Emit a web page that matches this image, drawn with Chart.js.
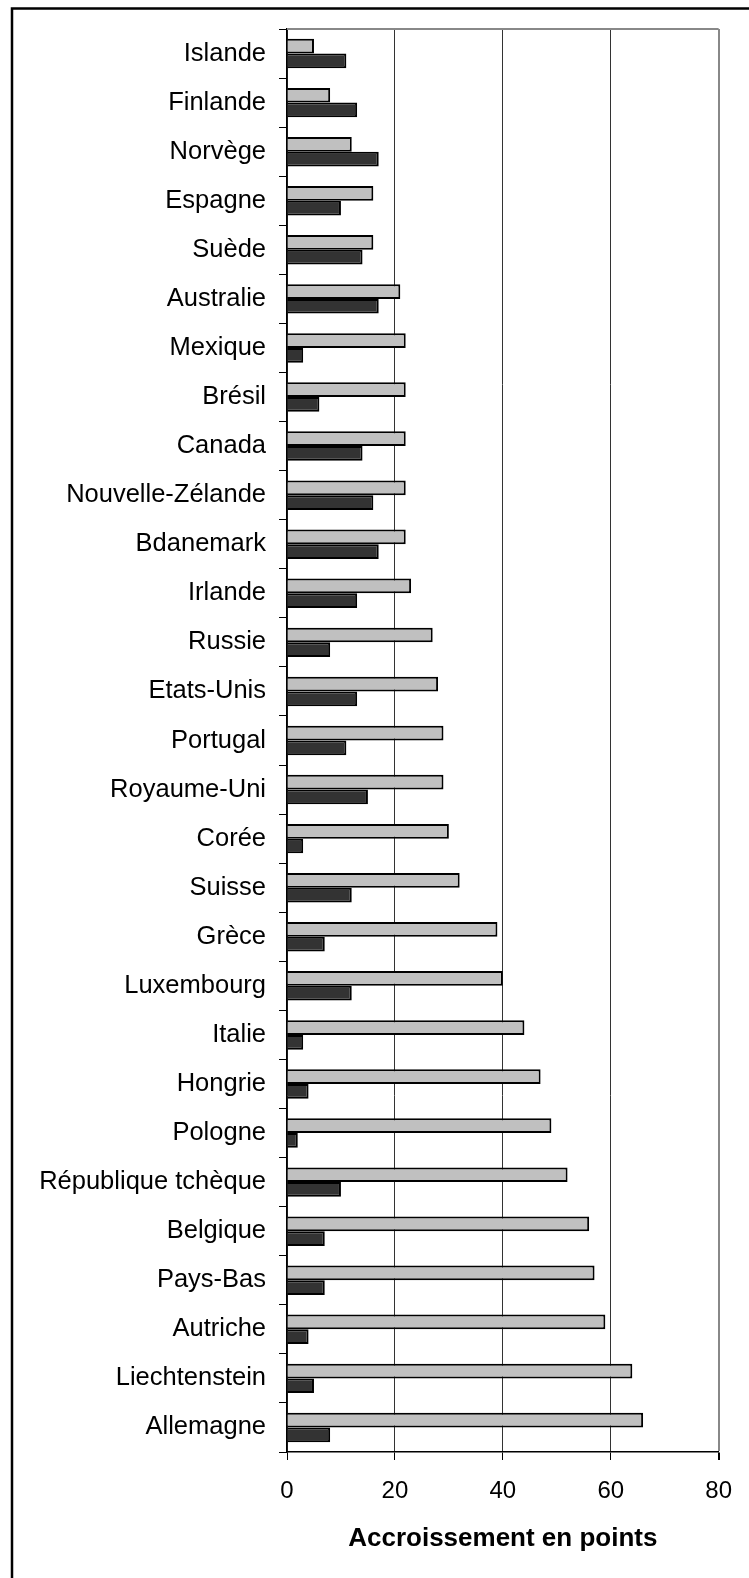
<!DOCTYPE html>
<html>
<head>
<meta charset="utf-8">
<script src="https://cdn.jsdelivr.net/npm/chart.js@4.4.1/dist/chart.umd.min.js"></script>
<style>
  body { margin: 0; background: #fff; }
  canvas { display: block; }
</style>
</head>
<body>
<canvas id="chart" width="749" height="1578"></canvas>
<script>
// pays, de haut en bas
const countries = ["Islande", "Finlande", "Norvège", "Espagne", "Suède", "Australie", "Mexique", "Brésil",
  "Canada", "Nouvelle-Zélande", "Bdanemark", "Irlande", "Russie", "Etats-Unis", "Portugal", "Royaume-Uni",
  "Corée", "Suisse", "Grèce", "Luxembourg", "Italie", "Hongrie", "Pologne", "République tchèque",
  "Belgique", "Pays-Bas", "Autriche", "Liechtenstein", "Allemagne"]

// barres claires (en haut) et foncées (en bas)
const lightValues = [5, 8, 12, 16, 16, 21, 22, 22, 22, 22, 22, 23, 27, 28, 29, 29,
  30, 32, 39, 40, 44, 47, 49, 52, 56, 57, 59, 64, 66]
const darkValues = [11, 13, 17, 10, 14, 17, 3, 6, 14, 16, 17, 13, 8, 13, 11, 15,
  3, 12, 7, 12, 3, 4, 2, 10, 7, 7, 4, 5, 8]

const xTicks = [0, 20, 40, 60, 80]
const xTitle = "Accroissement en points"

const fontFamily = "'Liberation Sans', Arial, sans-serif"

// cadre extérieur + bord haut de la zone de tracé
const framePlugin = {
  id: "frame",
  afterDraw(chart) {
    const ctx = chart.ctx
    const a = chart.chartArea
    ctx.save()
    ctx.strokeStyle = "#888"
    ctx.lineWidth = 2
    ctx.beginPath()
    ctx.moveTo(a.left, a.top)
    ctx.lineTo(a.right, a.top)
    ctx.stroke()
    ctx.strokeStyle = "#000"
    ctx.lineWidth = 2.5
    ctx.beginPath()
    ctx.moveTo(749, 8.5)
    ctx.lineTo(12, 8.5)
    ctx.lineTo(12, 1578)
    ctx.stroke()
    ctx.restore()
  }
}

new Chart(document.getElementById("chart").getContext("2d"), {
  type: "bar",
  data: {
    labels: countries,
    datasets: [
      {
        data: lightValues,
        backgroundColor: "#c0c0c0",
        borderColor: "#000",
        borderWidth: 2
      },
      {
        data: darkValues,
        backgroundColor: "#333333",
        borderColor: "#000",
        borderWidth: 2
      }
    ]
  },
  options: {
    indexAxis: "y",
    responsive: false,
    animation: false,
    devicePixelRatio: 1,
    categoryPercentage: 0.6,
    barPercentage: 1,
    layout: { padding: { left: 0, top: 29, right: 28, bottom: 0 } },
    plugins: {
      legend: { display: false },
      tooltip: { enabled: false }
    },
    scales: {
      x: {
        type: "linear",
        min: 0,
        max: 80,
        afterBuildTicks: (scale) => { scale.ticks = xTicks.map(v => ({ value: v })) },
        afterFit: (scale) => { scale.height = 126 },
        grid: {
          color: (c) => c.tick && c.tick.value === 80 ? "#888" : "#333",
          lineWidth: (c) => c.tick && c.tick.value === 80 ? 2 : 1,
          tickColor: "#000",
          tickLength: 8
        },
        border: { color: "#000", width: 1.5 },
        ticks: {
          color: "#000",
          padding: 17,
          font: { family: fontFamily, size: 24 }
        },
        title: {
          display: true,
          text: xTitle,
          color: "#000",
          padding: { top: 0, bottom: 24 },
          font: { family: fontFamily, size: 26, weight: "bold" }
        }
      },
      y: {
        afterFit: (scale) => { scale.width = 287 },
        grid: {
          offset: true,
          drawOnChartArea: false,
          tickColor: "#000",
          tickLength: 8
        },
        border: { color: "#000", width: 1.5 },
        ticks: {
          color: "#000",
          padding: 13,
          autoSkip: false,
          font: { family: fontFamily, size: 25.5 }
        }
      }
    }
  },
  plugins: [framePlugin]
})
</script>
</body>
</html>
